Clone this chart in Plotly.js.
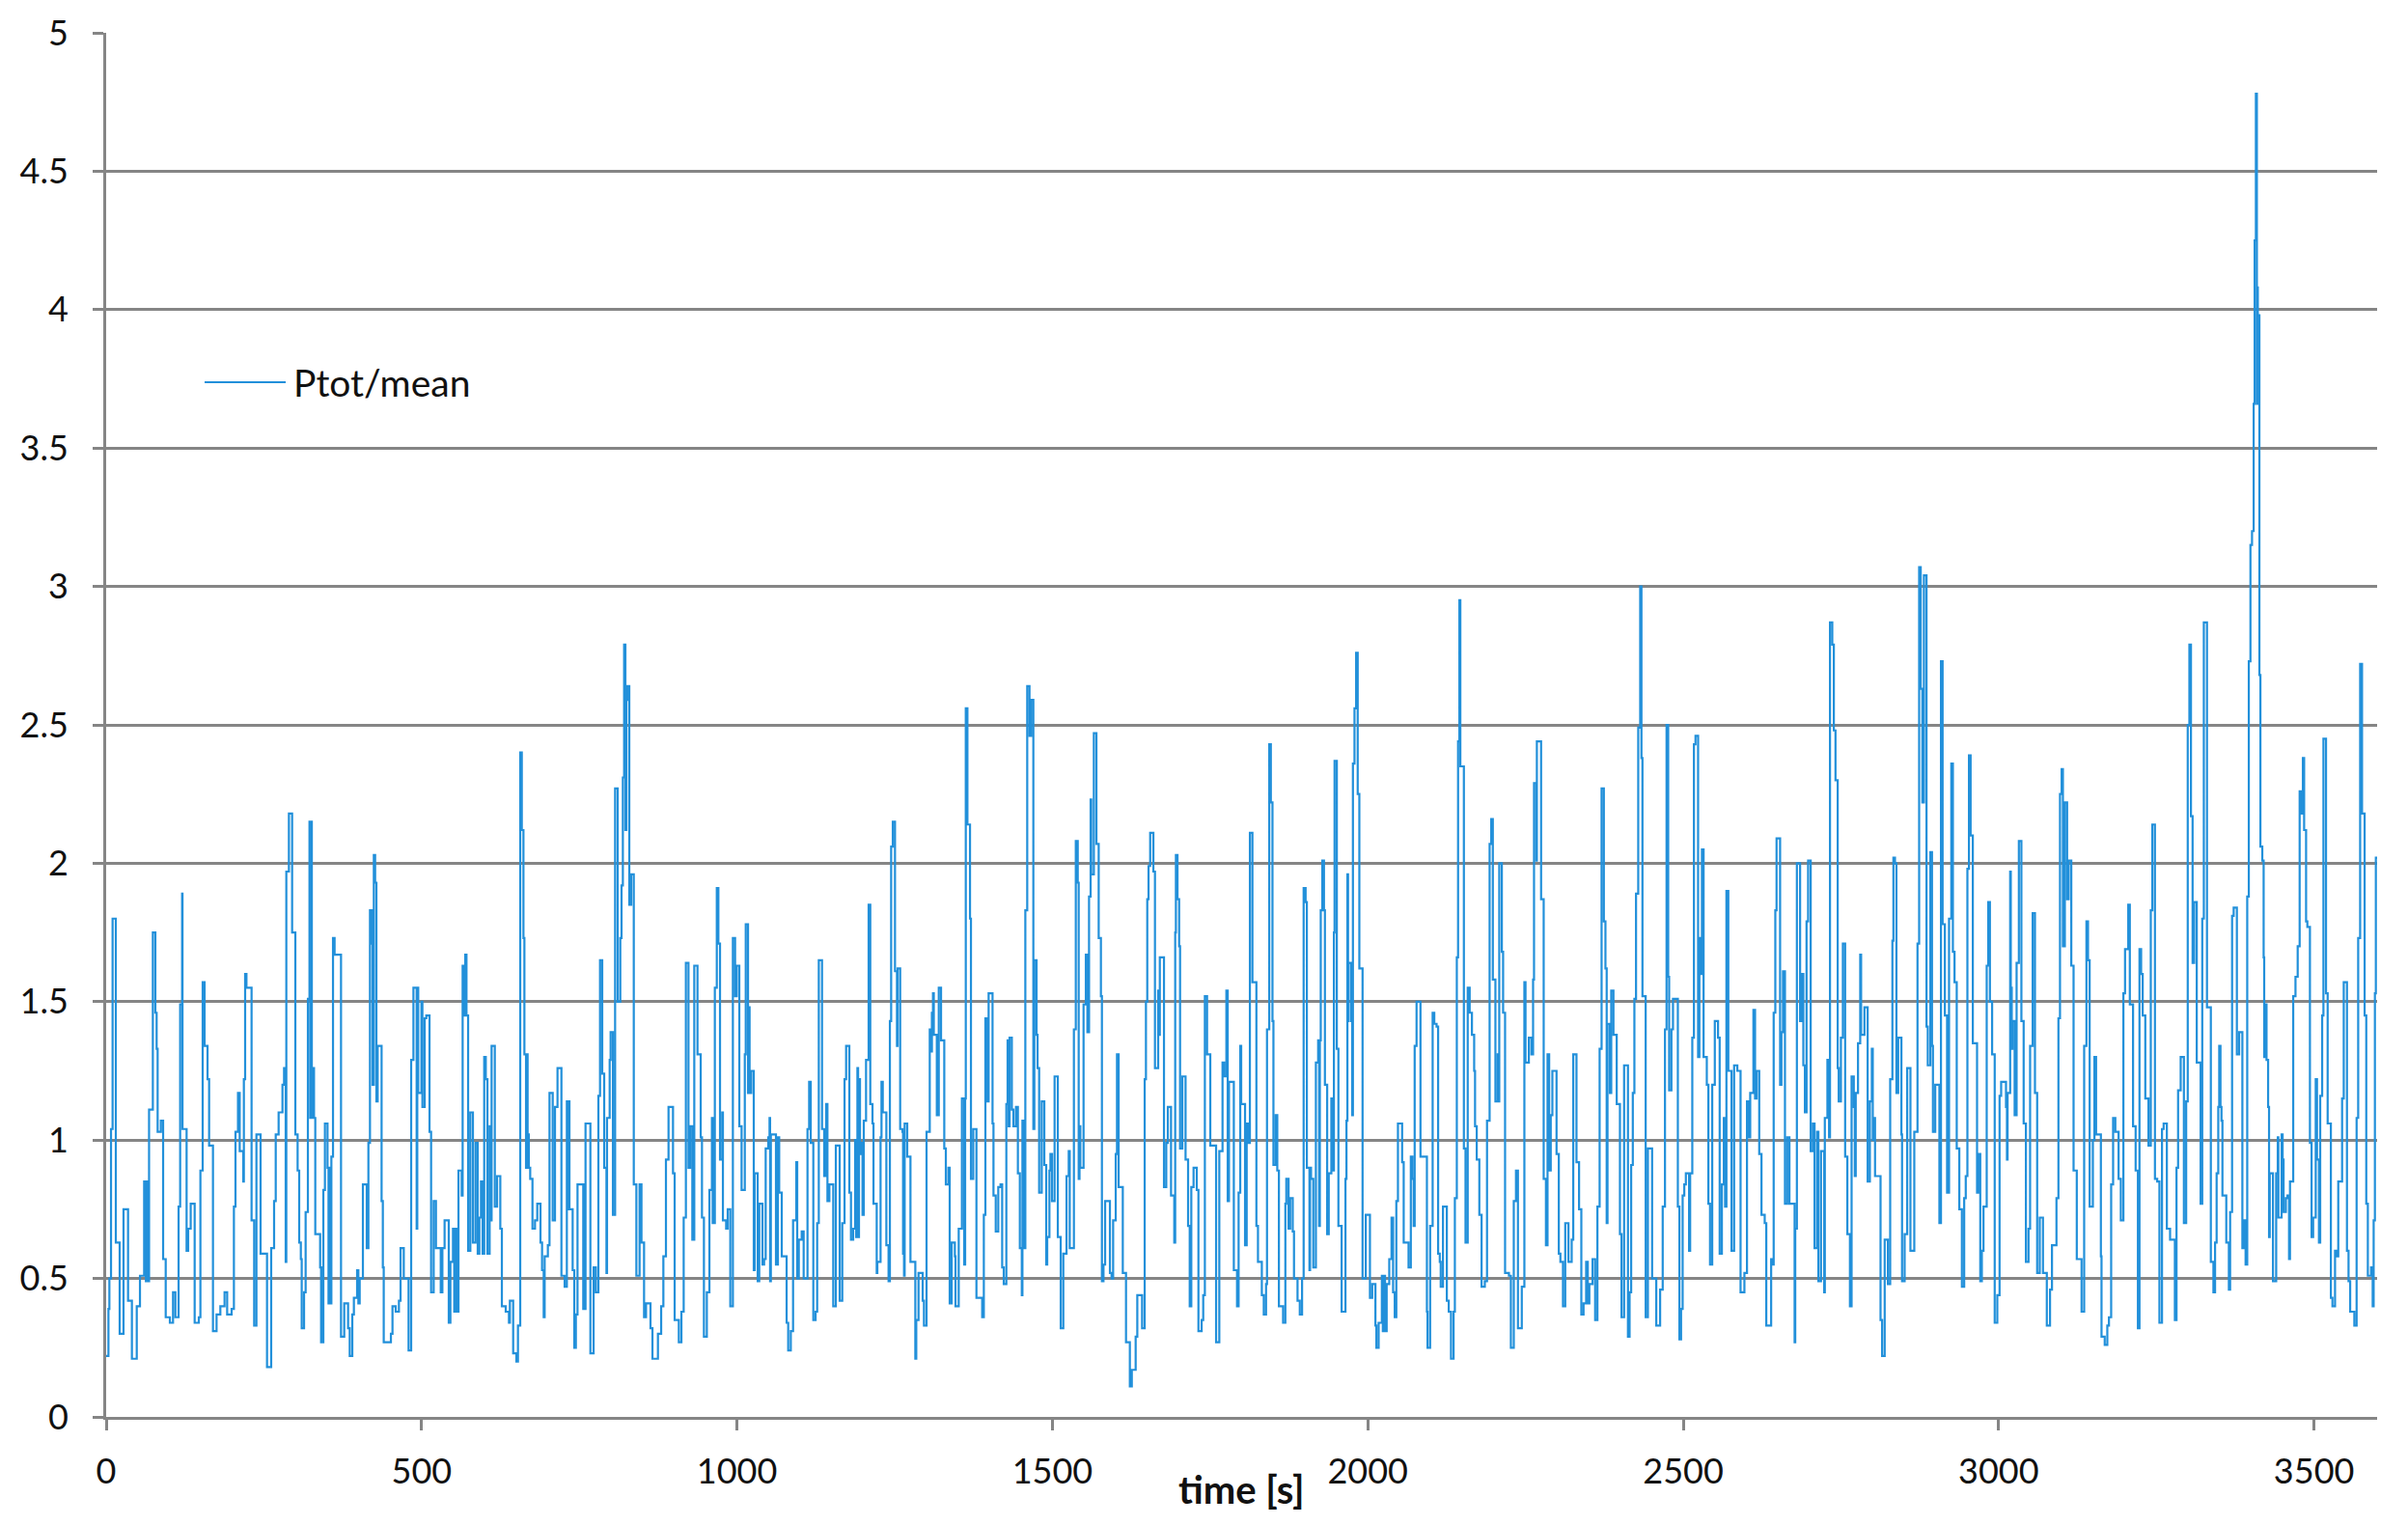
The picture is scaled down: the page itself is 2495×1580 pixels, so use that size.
<!DOCTYPE html>
<html>
<head>
<meta charset="utf-8">
<script src="https://cdn.plot.ly/plotly-3.0.1.min.js"></script>
<style>html,body{margin:0;padding:0;background:#fff;}#chart{width:2495px;height:1580px;}</style>
</head>
<body>
<div id="chart"></div>
<script>
// ---- data, in segments of ~300 s (time [s], Ptot/mean) ----
var timeA = [0,3.6,5.1,7.7,10.2, 15.3,21.4,27.5,34.7,40.8, 48.5,53.6,60.2,63,64, 66.3,68,74,78,80,
  81.6,86.7,90.3,94.4,101, 106,109.7,114.8,117.3,120.4, 121,127.5,130,134,140.3, 146.9,149.4,153,156,160.7,
  163.2,169.3,175,181,187.7, 191.8,198.9,202.5,205,209, 211.7,217.3,218.3,220.3,222.4, 230.5,234.6,238.2,244.8,255,
  261.6,266.2,268.8,273.4,279.5, 282,284.6,285.6,289.7,294.8];
var ptotA = [0.22,0.39,0.50,1.04,1.80, 0.63,0.30,0.75,0.42,0.21, 0.40,0.51,0.85,0.49,0.85, 0.49,1.11,1.75,1.46,1.33,
  1.03,1.07,0.57,0.36,0.34, 0.45,0.36,0.76,1.49,1.89, 1.04,0.60,0.68,0.77,0.34, 0.36,0.89,1.57,1.34,1.22,
  0.98,0.31,0.37,0.40,0.45, 0.37,0.39,0.76,1.03,1.17, 0.96,0.85,1.22,1.60,1.55, 0.71,0.33,1.02,0.59,0.18,
  0.61,0.78,1.02,1.10,1.20, 1.26,0.56,1.97,2.18,1.75];

var timeB = [299.9,303.5,306,308.6,310, 313.7,316.2,319.8,322.3,323.5, 324.9,326,327.4,329.5,331.5, 339.2,340.7,342,342.7,344.3,
  346.8,350.9,352.5,354.5,355.5, 357,359.6,362.1,372.3,377.4, 383.5,386.1,390.2,392.7,397.8, 399.8,401.9,407,413.1,415.7,
  418.2,420.2,421,422.3,424.3, 426.4,428.4,430.4,436.6,438.6, 440,451.4,453.9,459,464.1, 466.7,471.8,479.4,483.5,487.1,
  492.2,493.2,494.7,499.8,501.3, 504.9,507.5,512.6,515.1,519.2, 522.8,530.4,533,536.5,543.1, 545.7,549.8,551.8,553.4,555.9,
  558.5,563.6,565.1,567.1,569.2, 571.2,573.8,577.3,581.4,585.5, 589,591.6,594.2,596.7,599.3, 601.8];
var ptotB = [1.02,0.89,0.63,0.57,0.32, 0.45,0.74,1.51,2.15,1.08, 2.15,1.08,1.26,1.08,0.66, 0.54,0.27,0.54,0.27,0.82,
  1.06,0.90,0.41,0.90,0.41, 0.94,1.73,1.67,0.29,0.41, 0.32,0.22,0.37,0.43,0.53, 0.41,0.50,0.84,0.61,0.99,
  1.83,1.71,1.83,1.20,2.03, 1.93,1.14,1.34,0.78,0.54, 0.27,0.30,0.40,0.38,0.42, 0.61,0.50,0.24,1.29,1.55,
  0.68,1.55,1.17,1.50,1.12, 1.44,1.45,1.03,0.45,0.78, 0.61,0.45,0.61,0.71,0.34, 0.56,0.68,0.38,0.68,0.38,
  0.89,0.80,1.63,1.45,1.67, 1.45,0.60,1.10,0.63,0.99, 0.59,0.72,0.85,0.59,1.30, 1.22];

var timeC = [604.4,607.9,609,611,616.1, 619.7,624.8,627.3,633.4,638.5, 640,645.2,650.3,652.8,656.4, 658.9,661.5,663,665.6,667,
  668.1,670,672.2,675.8,679.8, 683.4,688.5,691,693.6,695.1, 700.2,702.8,707.9,711.5,715.5, 721.7,726.8,730.3,732.4,733.4,
  734.4,739.5,742.1,744.6,747.2, 756.3,757.5,758.4,759.9,767.6, 772.7,776.2,780.3,782.9,786.4, 789.5,793.1,794,798.2,799.7,
  803.3,806.8,810.9,815,817, 819.1,821.1,823.1,824.7,826.2, 829.3,832.3,836.4,840.5,845.6, 848.6,852.7,855.8,862.9,866,
  874.7,879.8,883.3,887.4,891.5, 898.6,901.2];
var ptotC = [0.59,1.05,0.71,1.34,0.76, 0.87,0.68,0.40,0.38,0.34, 0.42,0.23,0.20,0.33,2.40, 2.12,1.73,1.31,0.90,1.31,
  1.02,0.90,0.86,0.68,0.71, 0.77,0.63,0.53,0.36,0.58, 0.62,1.17,0.71,1.12,1.26, 0.51,0.47,1.14,0.75,1.14,
  0.75,0.53,0.25,0.37,0.84, 0.39,0.84,0.39,1.06,0.23, 0.54,0.45,1.16,1.65,1.24, 0.90,0.52,1.08,1.29,1.39,
  0.73,2.27,1.50,1.73,1.92, 2.31,2.79,2.12,2.59,2.64, 1.85,1.96,0.84,0.51,0.84, 0.63,0.36,0.41,0.32,0.21,
  0.30,0.40,0.58,0.93,1.12, 0.88,0.35];

var timeD = [907.8,911.9,915.5,919,923.1, 925.7,929.2,932.3,937.4,942.5, 944.5,947.6,952.2,956.3,960.3, 961.5,964.9,968,970.5,973.1,
  976.7,977.7,982.8,985.3,989.4, 993.5,997,999.6,1003.7,1007.3, 1012.4,1013.9,1017.5,1019,1020, 1022.6,1026.6,1028,1032.8,1035.3,
  1040.4,1043,1045.5,1049.6,1051.6, 1052.5,1053.7,1061.8,1064.9,1066.9, 1071,1078.7,1081.2,1085.3,1088.9, 1094,1095.5,1098,1102.6,1105.7,
  1111.8,1114.4,1116.9,1121,1124.6, 1127.1,1129.7,1134.8,1138.3,1141.4, 1143.4,1146.5,1152.6,1156.7,1162.8, 1166.9,1170.5,1173,1178.1,1180.7,
  1184.2,1187.3,1189,1190.9,1192, 1193.4,1195,1197.5,1199,1201, 1204.6,1208.7];
var ptotD = [0.27,0.38,0.72,1.64,0.90, 1.05,0.64,1.63,1.31,1.01, 0.72,0.29,0.45,0.82,1.08, 0.70,1.55,1.91,1.71,0.93,
  1.10,0.71,0.68,0.75,0.40, 1.73,1.52,1.63,1.05,0.82, 1.31,1.78,1.17,1.48,1.17, 1.25,0.53,0.88,0.49,0.77,
  0.55,0.57,0.97,1.01,1.08, 0.49,1.02,0.55,1.01,0.81, 0.58,0.34,0.24,0.31,0.71, 0.92,0.50,0.64,0.67,0.50,
  1.04,1.21,0.99,0.35,0.38, 0.70,1.65,1.04,0.87,1.13, 0.78,0.84,0.40,0.98,0.42, 0.70,1.22,1.34,0.81,0.64,
  0.68,1.00,0.65,1.26,0.65, 1.22,0.95,0.99,0.73,1.07, 1.29,1.85];

var timeE = [1211.3,1214.8,1216.4,1221.5,1222.5, 1227.6,1229.1,1231.1,1236.8,1240.3, 1242.4,1244.4,1247,1250.5,1253.6, 1254.6,1258.7,1262.3,1263.3,1264.8,
  1265.8,1269.9,1275,1282.7,1284.2, 1287.8,1294.4,1296.4,1300.5,1305.6, 1308.2,1309,1310.7,1312,1316.8, 1319.9,1323.5,1328.6,1331.1,1335.2,
  1337.2,1340.3,1345.4,1346.4,1351.5, 1356.6,1360.2,1361.7,1362.7,1365.3, 1369.4,1370.9,1374.5,1379.6,1388.7, 1391.3,1393.8,1396.4,1398.9,1405.1,
  1406.6,1410.2,1414.2,1417.8,1420.4, 1422.9,1427,1429,1430.6,1432.1, 1435.7,1438.2,1442.3,1445.3,1448.4, 1451.5,1452.5,1454.5,1457.1,1460.1,
  1463.7,1466.3,1469.8,1471.4,1474.9, 1476.5,1479,1483.1,1487.2,1490.2, 1491.8,1495.3,1496.9,1499.4,1503.5, 1508.6,1513.2,1517.3];
var ptotE = [1.13,1.06,0.77,0.52,0.56, 1.01,1.21,1.10,0.62,0.49, 1.43,2.06,2.15,1.61,1.34, 1.62,1.04,1.03,0.59,0.51,
  1.06,0.94,0.56,0.21,0.35, 0.52,0.42,0.33,1.03,1.40, 1.32,1.46,1.53,1.38,1.09, 1.55,1.36,0.97,0.84,0.90,
  0.41,0.63,0.58,0.40,0.68, 1.15,0.55,1.15,2.56,2.14, 1.80,0.86,1.04,0.43,0.36, 0.73,1.44,1.14,1.53,1.06,
  0.80,0.67,0.83,0.84,0.54, 0.48,1.13,1.36,1.05,1.37, 1.11,1.05,1.12,0.88,0.61, 0.44,1.07,0.61,1.83,2.64,
  2.46,2.59,1.04,1.65,1.38, 1.26,0.81,1.14,0.91,0.55, 0.65,0.89,0.95,0.78,1.23, 0.65,0.32,0.59];

var timeF = [1522.4,1525.9,1527.5,1534.1,1537.1, 1540.2,1541.7,1543,1544.3,1549.4, 1553,1555.5,1558.1,1560.6,1561.6, 1565.7,1569.8,1573.4,1576.9,1578.5,
  1581,1583.6,1591.2,1593.8,1596.3, 1600.4,1602.4,1605,1611.6,1616.7, 1622.8,1625.9,1632,1634.6,1642.2, 1646.3,1648.3,1650.4,1652.4,1655,
  1660.1,1662.6,1667.7,1669.2,1670.3, 1676.9,1680.5,1683,1688.1,1693.2, 1694.7,1695.8,1698.3,1700.9,1702.4, 1706,1711.1,1715.1,1717.7,1720.2,
  1723.8,1728.9,1731.5,1736.6,1739.1, 1741.7,1745.2,1750.3,1759.5,1764.6, 1769.7,1772.3,1775.8,1777.9,1779.9, 1787.6,1792.7,1795.2,1797.8,1799.3,
  1805.4,1808,1810.5,1813.1,1817.1];
var ptotF = [0.87,0.96,0.61,1.40,2.08, 1.93,0.86,1.05,0.90,1.49, 1.67,1.39,1.88,2.23,1.96, 2.47,2.07,1.73,1.52,0.49,
  0.55,0.78,0.52,0.50,0.71, 0.95,1.31,0.83,0.52,0.27, 0.11,0.17,0.29,0.44,0.32, 1.22,1.50,1.87,1.99,2.11,
  1.97,1.26,1.54,1.38,1.66, 0.83,0.99,1.12,0.80,0.63, 1.75,2.03,1.87,1.70,0.97, 1.23,0.93,0.69,0.40,0.83,
  0.90,0.82,0.31,0.35,0.44, 1.52,1.31,0.98,0.27,0.96, 1.28,1.23,1.54,0.78,1.21, 0.53,0.40,0.81,1.34,1.13,
  0.62,1.06,0.99,2.11,1.57];

var timeG = [1823.4,1825.9,1832,1835.1,1838.7, 1840.2,1843.8,1846.3,1848.9,1850.4, 1854,1856.5,1859.1,1865.7,1869.3, 1870.8,1874.4,1876.9,1881,1883,
  1888.6,1892.2,1895.8,1898.3,1901.4, 1903.4,1907.5,1908.5,1910,1913.6, 1917.7,1921.3,1922.8,1924,1925.4, 1927.9,1930.5,1932,1935.6,1938.1,
  1942.2,1944.2,1946.3,1947.3,1950.9, 1953.4,1958.5,1964.6,1966.2,1967.7, 1968.7,1969.7,1973.8,1975.3,1976.4, 1978.9,1981.5,1984,1986.6,1991.7,
  1996.8,2003.4,2007,2012.1,2013.6, 2017.2,2022.3,2023.8,2025,2027.4, 2029.9,2034,2037.6,2040.1,2042.7, 2045.2,2047.8,2054.4,2056.9,2064.6,
  2068.2,2070.7,2072.7,2074.3,2077.3, 2083.5,2093.7,2094.7,2098.8,2102.8, 2105.4,2109,2111.5,2114.1,2115.6, 2119.2,2125.3,2128.3,2131.9];
var ptotG = [0.69,0.56,0.44,0.37,0.48, 1.40,2.43,2.22,1.43,0.91, 1.09,0.89,0.40,0.34,0.77, 0.86,0.68,0.79,0.67,0.50,
  0.42,0.37,0.50,1.91,1.86, 0.90,0.53,0.90,0.86,0.54, 1.28,1.36,0.69,1.36,1.83, 2.01,1.83,1.20,0.66,0.88,
  1.15,0.89,1.75,2.37,1.33, 0.69,0.38,0.86,1.07,1.96, 1.43,1.64,1.43,1.09,2.36, 2.56,2.76,2.25,1.62,0.50,
  0.73,0.43,0.48,0.33,0.25, 0.34,0.51,0.31,0.51,0.31, 0.48,0.57,0.72,0.45,0.36, 0.78,1.06,0.92,0.63,0.54,
  0.94,0.86,0.69,1.34,1.50, 0.94,0.38,0.25,0.69,1.46, 1.42,1.41,0.59,0.56,0.47, 0.76,0.42,0.38,0.21];

var timeH = [2136,2138,2141.1,2143.1,2145.2, 2146.7,2152.3,2154.9,2158.4,2161.5, 2165.1,2168.6,2170,2172.7,2176.8, 2180.4,2185.5,2189,2193.1,2195.7,
  2198.2,2202.3,2205.9,2207,2208.4, 2212.5,2214.5,2217.6,2223.7,2226.8, 2231.4,2234.9,2238,2244.1,2248.2, 2250,2255.3,2259.4,2262,2263.5,
  2267.1,2268,2274.7,2278.8,2282.4, 2284.9,2287.5,2290,2292.6,2299.2, 2302.8,2305.3,2309.4,2313,2318.1, 2323.2,2325.7,2330.8,2334.9,2338.5,
  2342,2346.1,2348.7,2351.2,2356.3, 2360.4,2364,2367.5,2370.6,2374.2, 2376.7,2378.7,2380,2383.8,2385.9, 2389.4,2394.6,2399.7,2402.2,2406.3,
  2412.4,2415,2417.5,2420.1,2422.6, 2425.2,2428.7,2431.8,2433.8,2435.4];
var ptotH = [0.38,0.79,1.66,2.44,2.95, 2.35,0.97,0.63,1.55,1.46, 1.38,1.25,1.05,0.93,0.73, 0.47,0.49,1.07,2.07,2.16,
  1.58,1.14,1.31,1.14,2.00, 1.68,1.46,0.52,0.51,0.25, 0.78,0.89,0.32,0.47,1.57, 1.28,1.37,1.31,1.58,2.29,
  2.01,2.44,1.87,0.86,0.62, 1.31,0.89,1.09,1.25,0.95, 0.59,0.56,0.40,0.70,0.56, 0.64,1.31,0.92,0.75,0.37,
  0.41,0.56,0.41,0.48,0.57, 0.35,0.76,1.33,2.27,1.79, 1.62,0.70,1.42,1.17,1.54, 1.38,1.13,0.66,0.36,1.27,
  0.29,0.45,0.91,1.17,1.51, 1.89,2.49,3.00,2.38,1.52];

var timeI = [2440.5,2444,2450.7,2457.3,2463.4, 2467.5,2471.1,2473.6,2476.2,2477.7, 2481.3,2483.8,2491.5,2494,2496.6, 2499.1,2501.7,2504.2,2509.3,2511,
  2514.4,2517,2519.5,2523.6,2525.6, 2527.7,2529.7,2532.3,2537.4,2539.9, 2542.5,2546,2550.1,2555.2,2557.8, 2561.3,2564.4,2566.4,2568.5,2571.5,
  2576.6,2580.7,2585.8,2590.9,2597, 2601.1,2603.7,2606.2,2611.3,2613.9, 2616.4,2620.5,2624.1,2629.2,2631.7, 2639.4,2641.9,2643.4,2646,2648,
  2653.6,2655.7,2658.2,2661.3,2664.9, 2668.4,2676.6,2677.6,2680.2,2685.3, 2687.8,2690.4,2692.9,2695.5,2698, 2702.1,2705.7,2708.2,2712.3,2714.3,
  2718.4,2723.5,2724.5,2728.6,2731.2, 2732.7,2736.3,2738.8,2741.4,2744.9];
var ptotI = [0.36,0.97,0.50,0.33,0.46, 0.76,1.40,2.50,1.59,1.18, 1.40,1.51,0.76,0.28,0.39, 0.80,0.84,0.88,0.60,0.88,
  1.37,2.43,2.46,1.30,1.73, 1.60,2.05,1.30,1.20,0.77, 0.55,1.20,1.43,1.37,0.59, 0.84,1.08,0.76,1.90,1.25,
  0.60,1.27,1.25,0.45,0.52, 1.14,1.01,1.17,1.47,1.15, 1.25,0.95,0.73,0.70,0.33, 0.57,0.55,1.46,1.83,2.09,
  1.20,1.39,1.61,0.77,1.01, 0.77,0.27,0.68,2.00,1.43, 1.60,1.27,1.10,1.79,2.01, 0.96,1.06,0.61,1.03,0.49,
  0.96,0.45,1.08,1.29,1.01, 2.87,2.79,2.48,2.30,1.26];

var timeJ = [2746.5,2750,2753.1,2756.7,2760.2, 2764.3,2766.9,2770.4,2772,2773.5, 2777.1,2780.6,2782,2787.3,2792.4, 2795.9,2799,2800.5,2802.6,2804.1,
  2812.8,2815.3,2819.4,2824.5,2828.1, 2831.6,2833.2,2835.7,2838,2840.8, 2845.9,2846.9,2851,2855.1,2860.2, 2866.3,2871.4,2874,2876.5,2879.1,
  2881.6,2885.7,2887.7,2891.8,2894.4, 2895.9,2899.5,2906.1,2908.6,2911.2, 2914.8,2918.3,2921.4,2925,2927.5, 2930.1,2933.6,2937.7,2941.8,2945.4,
  2947.9,2950.5,2953,2955.6,2959.1, 2965.8,2968.3,2970.9,2973.4,2976, 2981.1,2983.6,2986.2,2989.7,2993.8, 2997.9,3001.5,3004,3011.7,3013.2,
  3014.2,3018.3,3019.3,3020.8,3021.9, 3025.4,3028.5,3032.1,3036.1,3039.7, 3043.3,3047.4];
var ptotJ = [1.14,1.37,1.71,0.94,0.66, 0.40,1.23,1.12,0.87,1.17, 1.35,1.67,1.38,1.48,0.85, 1.14,1.33,1.00,1.08,0.87,
  0.35,0.22,0.64,0.48,1.22, 1.72,2.02,2.00,1.17,1.37, 1.02,0.49,0.66,1.26,0.60, 1.03,1.71,3.07,2.63,2.22,
  3.04,1.41,1.27,2.04,1.34, 1.03,1.20,0.70,2.73,1.78, 1.45,0.81,1.80,2.36,1.68, 1.57,0.97,0.75,0.47,0.79,
  0.87,1.98,2.39,2.10,1.35, 0.81,0.95,0.49,0.60,0.76, 1.63,1.86,1.50,1.31,0.34, 0.44,1.16,1.21,1.12,0.93,
  1.17,1.97,1.55,1.33,1.43, 1.09,1.64,2.08,1.43,1.06, 0.56,0.68];

var timeK = [3049.9,3054,3057.6,3061.1,3065.2, 3070.3,3076.4,3081.5,3084.6,3091.7, 3094.8,3097.3,3099.9,3101.9,3105, 3108.6,3111.1,3115.2,3118.8,3123.9,
  3131.5,3135.6,3139.2,3141.7,3144.3, 3149.4,3151.9,3154.5,3162.1,3163.1, 3168.2,3172.3,3174.9,3178.4,3181.5, 3185,3190.2,3193.7,3197.8,3200.4,
  3205.5,3208,3213.1,3217.2,3220.8, 3223.3,3225.9,3228.4,3232.5,3237.6, 3241.2,3243.7,3247.8,3251.4,3254.9, 3259,3261.6,3266.7,3271.8,3279.4,
  3282,3284.5,3288.6,3293.7,3297.3, 3299.8,3302.4,3304.9,3307.5,3310, 3314.1,3320.2,3322.8,3325.3];
var ptotK = [1.34,1.82,1.17,0.52,0.72, 0.52,0.33,0.46,0.62,0.79, 1.44,2.25,2.34,1.70,2.22, 1.87,2.01,1.63,0.89,0.57,
  0.38,1.34,1.79,1.65,0.76, 1.00,1.30,1.02,0.58,0.29, 0.26,0.33,0.36,0.84,1.08, 1.03,0.86,0.71,1.53,1.69,
  1.85,1.49,1.05,0.89,0.32, 1.69,1.60,1.45,1.15,0.98, 1.83,2.14,0.86,0.85,0.34, 1.04,1.06,0.68,0.64,0.35,
  0.90,1.18,1.30,0.70,1.14, 2.50,2.79,2.17,1.64,1.86, 1.28,0.77,1.80,2.87];

var timeL = [3330.3,3336.4,3340.5,3343.1,3345.6, 3348.2,3349.7,3351.7,3353.3,3354.8, 3360.9,3365,3367,3370.1,3372.6, 3377.7,3381.3,3386.4,3389,3391.5,
  3394.1,3396.6,3399.2,3401.7,3404.3, 3405.8,3407.8,3409.4,3410,3410.9, 3413.4,3415,3418,3420.1,3421, 3422.1,3424.7,3427.2,3428.7,3429.8,
  3434.9,3440,3442.5,3443.5,3448.6, 3450.2,3451.7,3455.3,3457.8,3460.4, 3461.9,3467,3470.6,3474.1,3477.2, 3479.2,3482.3,3484.3,3487.4,3489.4,
  3493.5,3496.1,3498.6,3502.7,3504.7, 3507.8,3509.8,3512.9,3514.9,3519, 3521.6,3526.7,3529.2,3533.3,3535.3, 3538.4,3544.5,3547.1,3552.2,3554.7,
  3557.3,3563.9,3567.5,3570,3573.1, 3576.1,3580.2,3582.8,3585.3,3590.4, 3593,3594.5,3596.5,3598,3600];
var ptotL = [1.48,0.56,0.45,0.63,0.88, 1.12,1.34,1.12,1.07,0.80, 0.63,0.46,0.74,1.81,1.84, 1.31,1.39,0.61,0.71,0.55,
  1.88,2.73,3.15,3.20,3.66, 4.25,4.78,3.66,4.08,3.98, 2.68,2.06,2.01,1.66,1.30, 1.49,1.29,1.12,0.65,0.88,
  0.49,0.88,1.01,0.72,1.02, 0.93,0.74,0.79,0.80,0.57, 0.85,1.52,1.59,1.70,2.26, 2.18,2.38,2.12,1.79,1.77,
  0.99,0.65,0.72,1.22,0.93, 0.63,1.16,1.45,2.45,1.53, 1.06,0.43,0.40,0.60,0.58, 0.85,1.15,1.57,0.60,0.49,
  0.38,0.33,1.08,1.73,2.72, 2.18,1.45,0.77,0.51,0.54, 0.40,0.71,1.53,2.02,2.02];

var seriesName = 'Ptot/mean';
var xTickVals = [0, 500, 1000, 1500, 2000, 2500, 3000, 3500];
var xTitle = 'time [s]';

// ---- assemble ----
var tSegs = [timeA,timeB,timeC,timeD,timeE,timeF,timeG,timeH,timeI,timeJ,timeK,timeL];
var pSegs = [ptotA,ptotB,ptotC,ptotD,ptotE,ptotF,ptotG,ptotH,ptotI,ptotJ,ptotK,ptotL];
var xs = [], ys = [];
for (var s = 0; s < tSegs.length; s++) {
  var n = Math.min(tSegs[s].length, pSegs[s].length);
  for (var i = 0; i < n; i++) { xs.push(tSegs[s][i]); ys.push(pSegs[s][i]); }
}

var W = 2495, H = 1580;
var mL = 110, mR = 32, mT = 34, mB = 112;
var plotW = W - mL - mR, plotH = H - mT - mB;
var FONT = 'Lato, "Open Sans", sans-serif';
var TXT = '#111111';
var GRID = '#858585';
var LINE = '#2290da';

function px2paperX(p) { return (p - mL) / plotW; }
function px2paperY(p) { return (H - mB - p) / plotH; }

var trace = {
  type: 'scatter', mode: 'lines', name: seriesName,
  x: xs, y: ys,
  line: { color: LINE, width: 2.2, shape: 'hv' },
  showlegend: false, hoverinfo: 'x+y'
};

var layout = {
  width: W, height: H,
  margin: { l: mL, r: mR, t: mT, b: mB, pad: 0 },
  paper_bgcolor: '#ffffff', plot_bgcolor: '#ffffff',
  font: { family: FONT, size: 36, color: TXT },
  showlegend: false,
  xaxis: {
    range: [0, 3600], tickmode: 'array', tickvals: xTickVals,
    ticks: 'outside', ticklen: 11, tickwidth: 3, tickcolor: GRID,
    showline: true, linecolor: GRID, linewidth: 3,
    showgrid: false, zeroline: false,
    tickfont: { family: FONT, size: 36, color: TXT },
    ticklabelstandoff: 12
  },
  yaxis: {
    range: [0, 5], tickmode: 'linear', tick0: 0, dtick: 0.5,
    ticks: 'outside', ticklen: 11, tickwidth: 3, tickcolor: GRID,
    showline: true, linecolor: GRID, linewidth: 3,
    showgrid: true, gridcolor: GRID, gridwidth: 3, zeroline: false,
    tickfont: { family: FONT, size: 36, color: TXT },
    ticklabelstandoff: 18
  },
  shapes: [{
    type: 'line', xref: 'paper', yref: 'paper',
    x0: px2paperX(212), x1: px2paperX(296), y0: px2paperY(396), y1: px2paperY(396),
    line: { color: LINE, width: 2.2 }
  }],
  annotations: [
    { xref: 'paper', yref: 'paper', x: px2paperX(302), y: px2paperY(396), xanchor: 'left', yanchor: 'middle',
      text: seriesName, showarrow: false, font: { family: FONT, size: 39, color: TXT } },
    { xref: 'paper', yref: 'paper', x: 0.5, y: px2paperY(1543), xanchor: 'center', yanchor: 'middle',
      text: '<b>' + xTitle + '</b>', showarrow: false, font: { family: FONT, size: 40, color: TXT } }
  ]
};

Plotly.newPlot('chart', [trace], layout, { staticPlot: true, displayModeBar: false });
</script>
</body>
</html>
